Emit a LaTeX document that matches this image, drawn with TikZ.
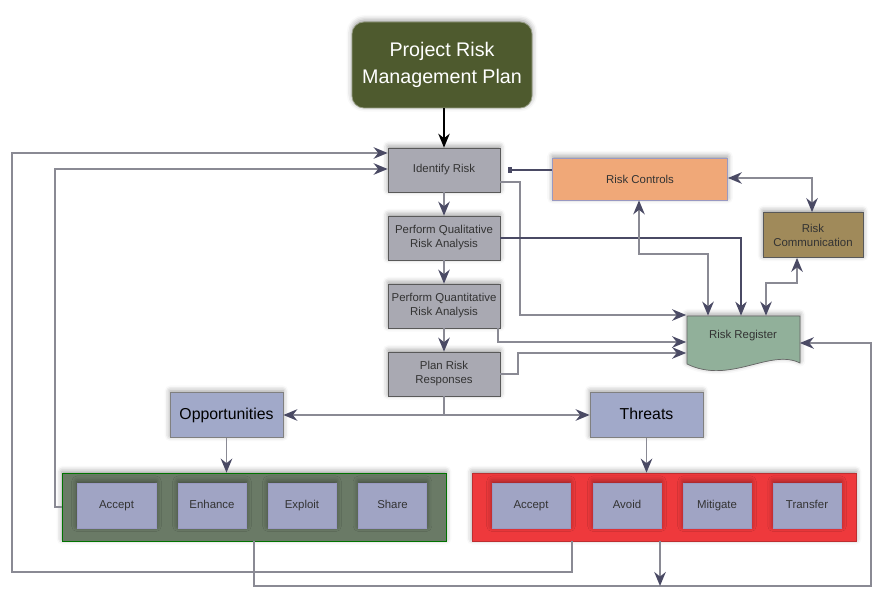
\documentclass[tikz,border=0pt]{standalone}
\usepackage{fontspec}
\setmainfont{Liberation Sans}
\usetikzlibrary{positioning}
\usetikzlibrary{arrows.meta}
\usetikzlibrary{shadows.blur}

\definecolor{planc}{HTML}{4E5A2E}
\definecolor{stepc}{HTML}{A9A9B2}
\definecolor{ctrlc}{HTML}{F0A878}
\definecolor{commc}{HTML}{A08A5A}
\definecolor{regc}{HTML}{91B09A}
\definecolor{kindc}{HTML}{A1A9C9}
\definecolor{optc}{HTML}{A0A4C4}
\definecolor{oppgc}{HTML}{6A7A66}
\definecolor{thrgc}{HTML}{EE393C}
\definecolor{linkc}{HTML}{8A8A94}
\definecolor{tipc}{HTML}{4A4A64}

\tikzset{
  shade box/.style={blur shadow={shadow xshift=0pt,shadow yshift=1pt,shadow blur radius=3pt,shadow opacity=40}},
  stepbox/.style={shape=rectangle,draw=black!65,fill=stepc,minimum width=22.4mm,minimum height=8.8mm,
    inner sep=1pt,align=center,font=\fontsize{6.5}{8}\selectfont,text=black!80,shade box},
  optbox/.style={shape=rectangle,draw=black!60!blue!40,fill=optc,minimum width=13.6mm,minimum height=9mm,
    inner sep=1pt,text height=4.8pt,text depth=1.4pt,font=\fontsize{6.5}{8}\selectfont,text=black!80,shade box},
  kindbox/.style={shape=rectangle,draw=black!50,fill=kindc,minimum width=22.6mm,minimum height=9mm,
    text height=6.6pt,text depth=1.9pt,font=\fontsize{9}{11}\selectfont,shade box},
  groupbox/.style={shape=rectangle,minimum width=76.8mm,minimum height=13.6mm,shade box},
  link/.style={draw=linkc,line width=1.1pt},
  darklink/.style={draw=tipc,line width=0.6pt},
  tip/.style={-{Stealth[length=2.8mm,width=2.3mm,color=tipc]}},
  twotip/.style={{Stealth[length=2.8mm,width=2.3mm,color=tipc]}-{Stealth[length=2.8mm,width=2.3mm,color=tipc]}}
}

\begin{document}
\begin{tikzpicture}[x=0.2mm,y=-0.2mm]
    \useasboundingbox (0,0) rectangle (885,600);

    % plan and process steps
    \node[shape=rectangle,rounded corners=2.4mm,fill=planc,draw=planc!60!white,minimum width=36mm,minimum height=17.2mm,
      align=center,text=white,font=\fontsize{11.2}{15.3}\selectfont,shade box] (plan) at (442,65) {Project Risk\\Management Plan};
    \node[stepbox] (identify) at (444,170) {Identify Risk};
    \node[stepbox] (qual) at (444,238) {Perform Qualitative\\Risk Analysis};
    \node[stepbox] (quant) at (444,306) {Perform Quantitative\\Risk Analysis};
    \node[stepbox] (respond) at (444,374) {Plan Risk\\Responses};

    % control side
    \node[shape=rectangle,draw=black!60!blue!40,fill=ctrlc,minimum width=35mm,minimum height=8.4mm,
      font=\fontsize{6.5}{8}\selectfont,text=black!80,shade box] (controls) at (640,179) {Risk Controls};
    \node[shape=rectangle,draw=black!65,fill=commc,minimum width=20mm,minimum height=9mm,align=center,
      font=\fontsize{6.5}{8}\selectfont,text=black!80,shade box] (comm) at (813,235) {Risk\\Communication};
    \path[fill=regc,draw=black!60,shade box] (687,316) -- (800,316) -- (800,363)
      .. controls (770,348) and (730,385) .. (687,364) -- cycle;
    \node[shape=rectangle,minimum width=22.6mm,minimum height=10.8mm,text depth=3.5mm,
      font=\fontsize{6.5}{8}\selectfont,text=black!80] (register) at (743,343) {Risk Register};

    % responses
    \node[kindbox] (opps) at (226.5,415) {Opportunities};
    \node[kindbox] (threats) at (646.5,415) {Threats};

    \node[groupbox,fill=oppgc,draw=green!45!black] (ogroup) at (254,507) {};
    \node[groupbox,fill=thrgc,draw=thrgc!80!black] (tgroup) at (664,507) {};

    \node[optbox,minimum width=15.8mm] (oaccept) at (116.5,505.5) {Accept};
    \node[optbox] (enhance) at (212,505.5) {Enhance};
    \node[optbox] (exploit) at (302,505.5) {Exploit};
    \node[optbox] (share) at (392.5,505.5) {Share};
    \node[optbox,minimum width=15.6mm] (taccept) at (531,505.5) {Accept};
    \node[optbox] (avoid) at (627,505.5) {Avoid};
    \node[optbox] (mitigate) at (717,505.5) {Mitigate};
    \node[optbox] (transfer) at (807,505.5) {Transfer};

    % main flow
    \draw[black,line width=0.9pt,-{Stealth[length=2.8mm,width=2.3mm]}] (plan.south -| identify.north) -- (identify.north);
    \path[link,tip] (identify) edge (qual);
    \path[link,tip] (qual) edge (quant);
    \path[link,tip] (quant) edge (respond);

    % into the register
    \draw[link,tip] (identify.east |- 0,182) -- (520,182) |- (register.west |- 0,315);
    \draw[darklink,tip] (qual.east) -| (register.north -| 741,0);
    \draw[link,tip] (quant.south -| 498,0) |- (register.west |- 0,342);
    \draw[link,tip] (respond.east) -- ++(18,0) |- (register.west |- 0,353);
    \draw[link,twotip] (controls.south -| 639,0) -- (639,254) -| (register.north -| 708,0);
    \draw[link,twotip] (controls.east |- 0,178) -| (comm.north -| 812,0);
    \draw[link,twotip] (comm.south -| 797,0) -- (797,283) -| (register.north -| 766,0);
    \draw[darklink,shorten >=1.6mm,-{Rectangle[length=0.7mm,width=1.3mm,color=tipc]}] (controls.west |- 0,170) -- (identify.east |- 0,170);

    % responses split
    \coordinate (split) at (respond.south |- 0,415);
    \draw[link] (respond.south) -- (split);
    \draw[link,tip] (split) -- (opps.east);
    \draw[link,tip] (split) -- (threats.west);
    \draw[link,tip] (opps.south) -- (opps.south |- ogroup.north);
    \draw[link,tip] (threats.south) -- (threats.south |- tgroup.north);

    % feedback loops
    \draw[link,tip] (tgroup.south -| 572,0) -- ++(0,31) -| (12,153) -- (identify.west |- 0,153);
    \draw[link,tip] (ogroup.west |- 0,507) -- (55,507) |- (identify.west |- 0,169);
    \draw[link,tip] (ogroup.south -| 254,0) |- (871,586) |- (register.east |- 0,343);
    \draw[link,tip] (tgroup.south -| 660,0) -- (660,586);
\end{tikzpicture}
\end{document}
